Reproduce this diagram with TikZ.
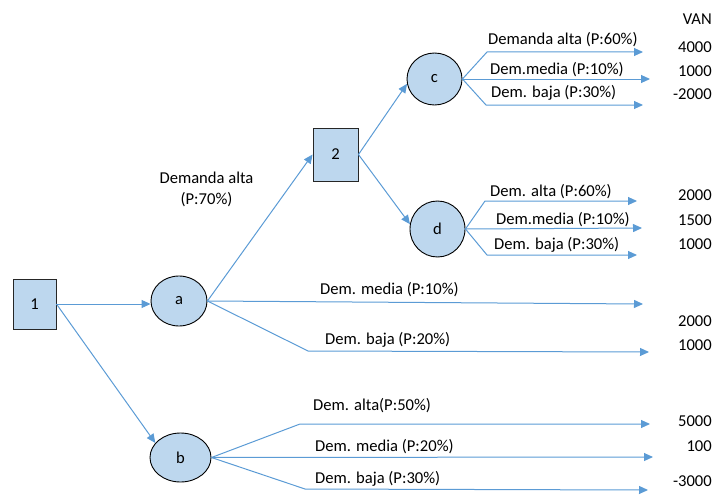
\documentclass[tikz,border=0pt]{standalone}
\usepackage{fontspec}
\setmainfont{Carlito}
\usetikzlibrary{arrows.meta, positioning, shapes.geometric}
\definecolor{nodefill}{HTML}{BDD7EE}
\definecolor{branchblue}{HTML}{5B9BD5}

\begin{document}
\begin{tikzpicture}[
			x=1pt, y=-1pt,
			font=\fontsize{16.6}{21}\selectfont,
			decision/.style={
				draw=black!85,
				fill=nodefill,
				line width=0.9pt,
				rectangle,
				minimum width=43pt,
				minimum height=50pt
			},
			chance/.style={draw=black, fill=nodefill, line width=0.9pt, ellipse, inner sep=0pt},
			branch/.style={-{Triangle[length=9pt, width=8pt]}, line width=1pt, color=branchblue},
			brlabel/.style={anchor=west, inner sep=0pt},
			van/.style={anchor=east, inner sep=0pt}
			]
			\useasboundingbox (0,0) rectangle (717,495);
			
			% -------- Nodes --------
			\node[decision] (n1) at (34.5,304) {1};
			\node[chance, minimum width=56pt, minimum height=50pt] (a) at (179,301) {a};
			\node[chance, minimum width=61pt, minimum height=49pt] (b) at (180.5,457.5) {b};
			\node[decision, minimum width=45pt, minimum height=53pt] (n2) at (335.5,154.5) {2};
			\node[chance, minimum width=55pt, minimum height=52pt] (c) at (434.5,79) {c};
			\node[chance, minimum width=55pt, minimum height=56pt] (d) at (437.5,229) {d};
			
			% -------- Ends of the branches --------
			\coordinate (cb1) at (487,52);  \coordinate (ce1) at (643,52);
			\coordinate (ce2) at (650,79);
			\coordinate (cb3) at (486,105); \coordinate (ce3) at (643,105);
			\coordinate (db1) at (485,201); \coordinate (de1) at (637,201);
			\coordinate (de2) at (642,228);
			\coordinate (db3) at (487,255); \coordinate (de3) at (637,255);
			\coordinate (ae2) at (643,304);
			\coordinate (ab3) at (308,351); \coordinate (ae3) at (649,352);
			\coordinate (bb1) at (300,424); \coordinate (be1) at (650,424);
			\coordinate (be2) at (653,457);
			\coordinate (bb3) at (305,489); \coordinate (be3) at (648,490);
			
			% -------- Connectors --------
			\draw[branch] (n1.east) -- (n1.east -| a.west);
			\draw[branch] (n1.east) -- (b.150);
			\draw[branch] (a.east) -- (n2.west);
			\draw[branch] (n2.east) -- (c.190);
			\draw[branch] (n2.east) -- (d.170);
			
			\draw[branch] (c.east) -- (cb1) -- (ce1);
			\draw[branch] (c.east) -- (ce2);
			\draw[branch] (c.east) -- (cb3) -- (ce3);
			\draw[branch] (d.east) -- (db1) -- (de1);
			\draw[branch] (d.east) -- (de2);
			\draw[branch] (d.east) -- (db3) -- (de3);
			\draw[branch] (a.east) -- (ae2);
			\draw[branch] (a.east) -- (ab3) -- (ae3);
			\draw[branch] (b.east) -- (bb1) -- (be1);
			\draw[branch] (b.east) -- (be2);
			\draw[branch] (b.east) -- (bb3) -- (be3);
			
			% -------- Branch labels --------
			\node[align=center, inner sep=0pt] (l2) at (206.5,189) {Demanda alta\\(P:70\%)};
			\node[brlabel] (lc1) at (488,40) {Demanda alta (P:60\%)};
			\node[brlabel] (lc2) at (490,70) {Dem.media (P:10\%)};
			\node[brlabel] (lc3) at (491,93) {Dem. baja (P:30\%)};
			\node[brlabel] (ld1) at (490,192) {Dem. alta (P:60\%)};
			\node[brlabel] (ld2) at (496,219.5) {Dem.media (P:10\%)};
			\node[brlabel] (ld3) at (494,244.5) {Dem. baja (P:30\%)};
			\node[brlabel] (la2) at (320,290) {Dem. media (P:10\%)};
			\node[brlabel] (la3) at (325,340) {Dem. baja (P:20\%)};
			\node[brlabel] (lb1) at (313,406) {Dem. alta(P:50\%)};
			\node[brlabel] (lb2) at (315,447) {Dem. media (P:20\%)};
			\node[brlabel] (lb3) at (315,479) {Dem. baja (P:30\%)};
			
			% -------- VAN column --------
			\node[van] (vt) at (712,19.5) {VAN};
			\node[van] (vc1) at (712,47) {4000};
			\node[van] (vc2) at (712,71.5) {1000};
			\node[van] (vc3) at (712,94) {-2000};
			\node[van] (vd1) at (712,195) {2000};
			\node[van] (vd2) at (712,220) {1500};
			\node[van] (vd3) at (712,244) {1000};
			\node[van] (va2) at (712,321) {2000};
			\node[van] (va3) at (712,345) {1000};
			\node[van] (vb1) at (712,421) {5000};
			\node[van] (vb2) at (712,446) {100};
			\node[van] (vb3) at (712,481) {-3000};
			
	\end{tikzpicture}
\end{document}
